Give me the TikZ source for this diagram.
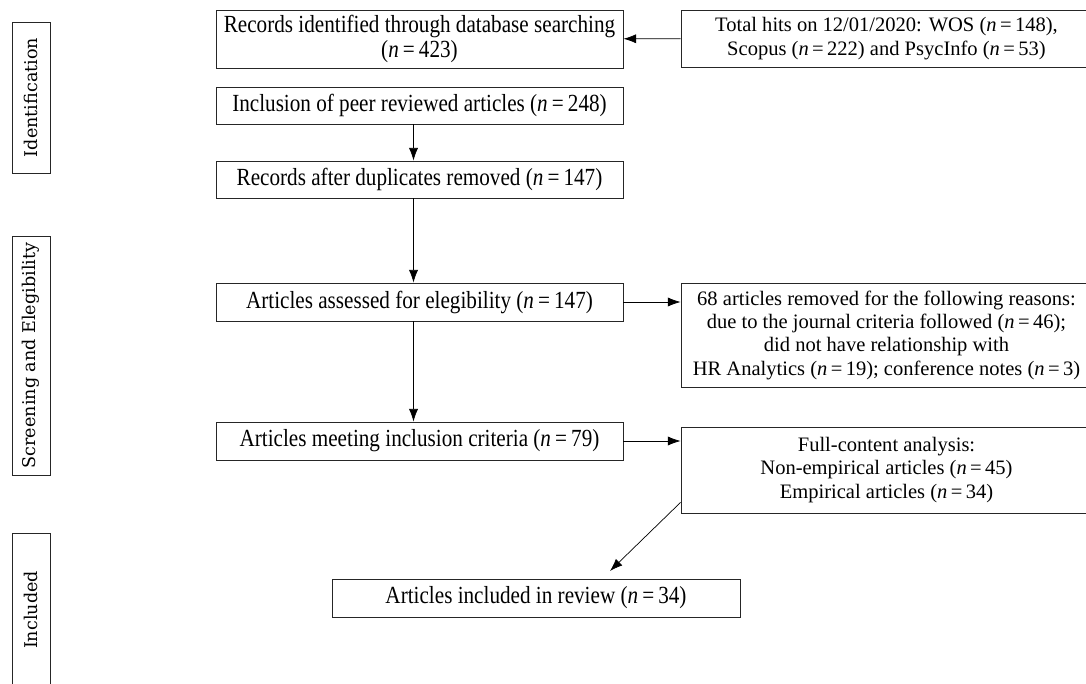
\documentclass[tikz,border=0pt]{standalone}
\usepackage{fontspec}
\setmainfont{Liberation Serif}
\newfontfamily\narrowfont[FakeStretch=0.86]{Liberation Serif}
\newfontfamily\labelfont{DejaVu Serif}
\usetikzlibrary{arrows.meta}

\newcommand{\nval}[1]{(\textit{n}\,=\,#1)}

\begin{document}
\begin{tikzpicture}[x=0.025cm,y=-0.025cm,
  box/.style={draw=black!85, line width=0.6pt, inner sep=0pt, align=center,
    font=\fontsize{14.6}{16.6}\selectfont},
  leftbox/.style={box, minimum width=10.175cm, minimum height=0.925cm,
    font=\narrowfont\fontsize{17.5}{17.5}\selectfont},
  rightbox/.style={box, minimum width=10.275cm},
  stage/.style={draw=black!85, line width=0.6pt, inner sep=0pt, rotate=90,
    minimum height=0.95cm, font=\labelfont\fontsize{12.5}{14}\selectfont},
  arr/.style={line width=0.5pt, -{Latex[length=9pt,width=6.5pt]}}]

\useasboundingbox (0,0) rectangle (1086,684);

% stages
\node[stage, minimum width=3.775cm] (l1) at (31,97.5) {Identification};
\node[stage, minimum width=5.975cm] (l2) at (31,355.5) {Screening and Elegibility};
\node[stage, minimum width=3.85cm] (l3) at (31,610) {Included};

% flow
\node[leftbox, minimum height=1.45cm] (v1) at (419.5,39) {Records identified through database searching\\\nval{423}};
\node[rightbox, minimum height=1.425cm] (v2) at (886.5,38.5) {Total hits on 12/01/2020: WOS \nval{148},\\Scopus \nval{222} and PsycInfo \nval{53}};
\node[leftbox] (v3) at (419.5,105.5) {Inclusion of peer reviewed articles \nval{248}};
\node[leftbox] (v4) at (419.5,179.5) {Records after duplicates removed \nval{147}};
\node[leftbox, minimum height=0.95cm] (v5) at (419.5,302) {Articles assessed for elegibility \nval{147}};
\node[rightbox, minimum height=2.6cm] (v6) at (886.5,335) {68 articles removed for the following reasons:\\due to the journal criteria followed \nval{46};\\did not have relationship with\\HR Analytics \nval{19}; conference notes \nval{3}};
\node[leftbox, minimum height=0.95cm] (v7) at (419.5,441) {Articles meeting inclusion criteria \nval{79}};
\node[rightbox, minimum height=2.15cm] (v8) at (886.5,470) {Full-content analysis:\\Non-empirical articles \nval{45}\\Empirical articles \nval{34}};
\node[leftbox, minimum width=10.2cm, minimum height=0.95cm] (v9) at (536,598) {Articles included in review \nval{34}};

\coordinate (c1) at (610,571);

\draw [arr] (v2) edge (v1);
\draw [arr] ([xshift=-0.15cm]v3.south) -- ([xshift=-0.15cm]v4.north);
\draw [arr] ([xshift=-0.15cm]v4.south) -- ([xshift=-0.15cm]v5.north);
\draw [arr] ([xshift=-0.15cm]v5.south) -- ([xshift=-0.15cm]v7.north);
\draw [arr] (v5.east) -- (v5.east -| v6.west);
\draw [arr] (v7.east) -- (v7.east -| v8.west);
\draw [arr] ([yshift=0.275cm]v8.south west) -- (c1);
\end{tikzpicture}
\end{document}
